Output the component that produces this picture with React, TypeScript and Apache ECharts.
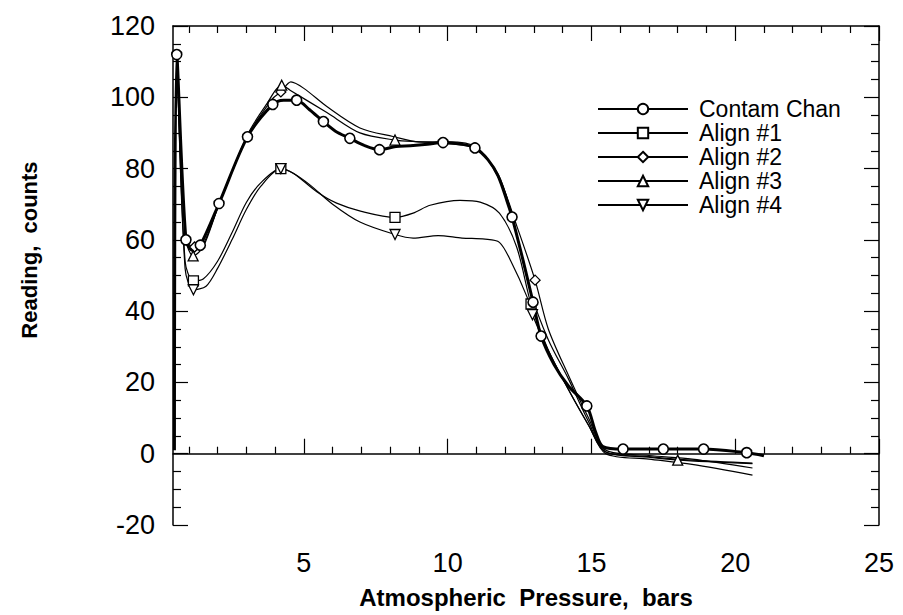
import React, { useEffect, useRef } from "react";
import * as echarts from "echarts";

const X_MIN = 0.45;
const X_MAX = 25;
const X_MAJOR = [5, 10, 15, 20, 25];
const X_MINOR = [1, 2, 3, 4, 6, 7, 8, 9, 11, 12, 13, 14, 16, 17, 18, 19, 21, 22, 23, 24];
const Y_MIN = -20;
const Y_MAX = 120;

const SERIES_NAMES = ["Contam Chan", "Align #1", "Align #2", "Align #3", "Align #4"];
const X_TITLE = "Atmospheric  Pressure,  bars";
const Y_TITLE = "Reading,  counts";

// [pressure, reading]
const contamChan = [
  [0.5, 1], [0.58, 112], [0.9, 60], [1.15, 57], [1.4, 58.5], [2.05, 70.2], [3.04, 88.9],
  [3.92, 98], [4.3, 99.2], [4.75, 99.2], [5.2, 96.5], [5.68, 93.2], [6.1, 90.5], [6.6, 88.5],
  [7.1, 86.5], [7.63, 85.3], [8.2, 86.2], [8.7, 86.4], [9.3, 86.8], [9.84, 87.3], [10.5, 86.8],
  [10.95, 85.8], [11.4, 82.5], [11.75, 78], [12.06, 71], [12.24, 66.4], [12.6, 55], [12.97, 42.5],
  [13.25, 33], [13.7, 25], [14.2, 19], [14.84, 13.4], [15.15, 6], [15.4, 2], [16.1, 1.3],
  [17.5, 1.3], [18.9, 1.3], [20.4, 0.3], [20.8, -0.2], [21.0, -0.6],
];
const contamMarks = [1, 2, 4, 5, 6, 7, 9, 11, 13, 15, 19, 21, 25, 27, 28, 31, 34, 35, 36, 37];

const align1 = [
  [0.6, 111], [0.87, 54], [1.16, 48.5], [1.5, 49], [2.0, 54], [2.5, 62], [3.0, 70.5], [3.5, 76],
  [4.2, 80], [4.63, 78.7], [5.45, 73.5], [6.14, 70.3], [7.0, 68], [8.17, 66.3], [8.8, 67.5],
  [9.39, 69.7], [10.43, 71.1], [11.13, 70.6], [11.8, 67.5], [12.4, 58], [12.9, 42], [13.5, 29],
  [14.2, 18], [14.9, 8], [15.5, 0.5], [17, -0.8], [18.5, -1.8], [20.6, -2.6],
];
const align1Marks = [2, 8, 13, 20];

const align2 = [
  [0.6, 111], [0.9, 60], [1.2, 58], [1.5, 58.8], [2.05, 70], [3.04, 89], [3.9, 99.5], [4.2, 101.5],
  [4.55, 104.3], [5.0, 102.5], [5.8, 97.4], [6.95, 91.4], [8.1, 89], [9.0, 87.5], [10.0, 87.5],
  [11.0, 86], [11.82, 76.7], [12.4, 64], [13.04, 48.7], [13.5, 35], [14.2, 22], [14.9, 10],
  [15.5, 1], [17, -0.5], [18.5, -1.5], [20.6, -4],
];
const align2Marks = [2, 7, 18];

const align3 = [
  [0.6, 111], [0.9, 60], [1.15, 55.5], [1.5, 58], [2.05, 70], [3.04, 89.5], [3.7, 98], [4.23, 103.4],
  [4.52, 102], [5.8, 95.7], [6.95, 90], [8.17, 88], [9.0, 87.5], [10.0, 87], [11.0, 85.5],
  [11.75, 78.5], [12.2, 68], [12.9, 45], [13.5, 32], [14.2, 21], [14.9, 9], [15.5, 0.5],
  [17, -1], [18, -1.8], [20.6, -2.8],
];
const align3Marks = [2, 7, 11, 23];

const align4 = [
  [0.6, 111], [0.87, 52], [1.16, 46], [1.6, 47], [2.0, 52], [2.5, 60], [3.0, 68.5], [3.5, 75],
  [4.2, 80], [4.63, 78.7], [5.2, 75.5], [6.0, 70], [6.95, 65], [8.17, 61.5], [8.8, 60.5],
  [9.67, 61.2], [10.5, 60.5], [11.3, 60.2], [11.8, 59.3], [12.2, 54], [12.76, 44], [12.95, 39],
  [13.5, 29], [14.2, 18], [14.9, 8], [15.5, 0], [17, -1.5], [18.5, -3], [20.6, -6],
];
const align4Marks = [2, 8, 13, 21];

const FONT = "'Liberation Sans', Arial, Helvetica, sans-serif";

function buildData(points: number[][], marks: number[]) {
  return points.map((p, i) =>
    marks.includes(i) ? { value: p } : { value: p, symbol: "none" }
  );
}

export default function App() {
  const ref = useRef<HTMLDivElement>(null);

  useEffect(() => {
    if (!ref.current) return;
    const chart = echarts.init(ref.current, undefined, { renderer: "svg" });

    const markerStyle = { color: "#fff", borderColor: "#000", borderWidth: 1.3 };
    const thin = { color: "#000", width: 1.2 };

    const mkSeries = (
      name: string,
      pts: number[][],
      marks: number[],
      symbol: string,
      lineWidth: number,
      extra: any = {}
    ) => ({
      type: "line",
      name,
      xAxisIndex: 0,
      yAxisIndex: 0,
      data: buildData(pts, marks),
      smooth: 0.3,
      symbol,
      symbolSize: 10,
      showSymbol: true,
      showAllSymbol: true,
      lineStyle: { ...thin, width: lineWidth },
      itemStyle: markerStyle,
      emphasis: { disabled: true },
      ...extra,
    });

    const axisLine = { show: true, lineStyle: { color: "#000", width: 1.5 } };
    const tickLine = { color: "#000", width: 1.2 };

    chart.setOption({
      animation: false,
      backgroundColor: "#fff",
      textStyle: { fontFamily: FONT },
      grid: { left: 173, top: 26, width: 706, height: 499, outerBoundsMode: "none" },
      legend: {
        orient: "vertical",
        left: 592,
        top: 92,
        itemWidth: 90,
        itemHeight: 13,
        itemGap: 0,
        data: SERIES_NAMES,
        textStyle: {
          fontSize: 23,
          lineHeight: 24,
          color: "#000",
          fontFamily: FONT,
          padding: [0, 0, 0, 6],
        },
      },
      graphic: [
        {
          type: "text",
          x: 29,
          y: 250,
          rotation: Math.PI / 2,
          style: {
            text: Y_TITLE,
            fill: "#000",
            font: `bold 22px ${FONT}`,
            align: "center",
            verticalAlign: "middle",
          },
        },
      ],
      xAxis: [
        {
          type: "value",
          position: "bottom",
          min: X_MIN,
          max: X_MAX,
          axisLine,
          splitLine: { show: false },
          axisTick: { show: true, inside: true, length: 15, customValues: X_MAJOR, lineStyle: tickLine },
          axisLabel: {
            customValues: X_MAJOR,
            fontSize: 27,
            color: "#000",
            margin: 24,
            fontFamily: FONT,
          },
          name: X_TITLE,
          nameLocation: "middle",
          nameGap: 60,
          nameTextStyle: { fontSize: 24, fontWeight: "bold", color: "#000", fontFamily: FONT },
        },
        {
          type: "value",
          position: "bottom",
          min: X_MIN,
          max: X_MAX,
          axisLine: { show: false },
          splitLine: { show: false },
          axisTick: { show: true, inside: true, length: 7, customValues: X_MINOR, lineStyle: tickLine },
          axisLabel: { show: false },
        },
        {
          type: "value",
          position: "top",
          min: X_MIN,
          max: X_MAX,
          axisLine,
          splitLine: { show: false },
          axisTick: { show: true, inside: true, length: 15, customValues: X_MAJOR, lineStyle: tickLine },
          axisLabel: { show: false },
        },
        {
          type: "value",
          position: "top",
          min: X_MIN,
          max: X_MAX,
          axisLine: { show: false },
          splitLine: { show: false },
          axisTick: { show: true, inside: true, length: 7, customValues: X_MINOR, lineStyle: tickLine },
          axisLabel: { show: false },
        },
      ],
      yAxis: [
        {
          type: "value",
          position: "left",
          min: Y_MIN,
          max: Y_MAX,
          interval: 20,
          axisLine,
          splitLine: { show: false },
          axisTick: { show: true, inside: true, length: 15, lineStyle: tickLine },
          minorTick: { show: true, splitNumber: 4, length: 8, lineStyle: tickLine },
          axisLabel: { fontSize: 27, color: "#000", margin: 18, fontFamily: FONT },
        },
        {
          type: "value",
          position: "right",
          min: Y_MIN,
          max: Y_MAX,
          interval: 20,
          axisLine,
          splitLine: { show: false },
          axisTick: { show: true, inside: true, length: 15, lineStyle: tickLine },
          minorTick: { show: true, splitNumber: 4, length: 8, lineStyle: tickLine },
          axisLabel: { show: false },
        },
      ],
      series: [
        mkSeries(SERIES_NAMES[1], align1, align1Marks, "rect", 1.2),
        mkSeries(SERIES_NAMES[2], align2, align2Marks, "diamond", 1.2),
        mkSeries(SERIES_NAMES[3], align3, align3Marks, "triangle", 1.2),
        mkSeries(SERIES_NAMES[4], align4, align4Marks, "triangle", 1.2, { symbolRotate: 180 }),
        mkSeries(SERIES_NAMES[0], contamChan, contamMarks, "circle", 3, {
          itemStyle: { color: "#fff", borderColor: "#000", borderWidth: 1.6 },
        }),
      ],
    });

    return () => chart.dispose();
  }, []);

  return (
    <div
      ref={ref}
      style={{ position: "fixed", left: 0, top: 0, width: 903, height: 615, background: "#fff" }}
    />
  );
}
